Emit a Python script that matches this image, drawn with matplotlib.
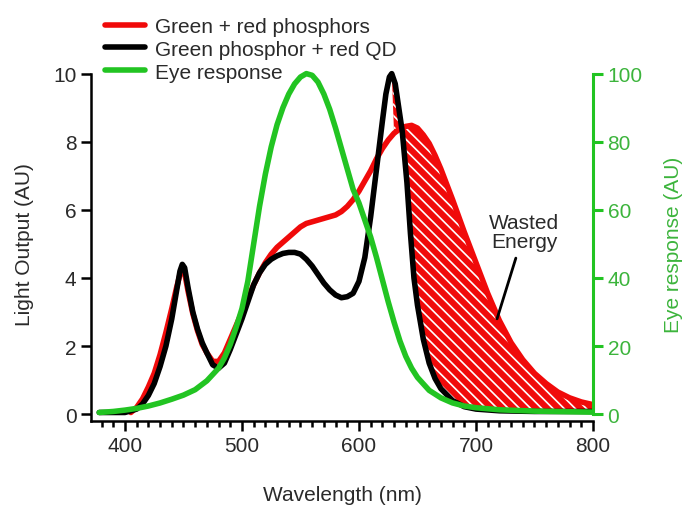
import numpy as np
import matplotlib
matplotlib.use("Agg")
import matplotlib.pyplot as plt

plt.rcParams['font.family'] = ['Liberation Sans', 'DejaVu Sans']
plt.rcParams['hatch.linewidth'] = 1.2
plt.rcParams['hatch.color'] = 'white'

# Green phosphor + red QD (black)
black_wl = [378, 390, 400, 410, 415, 420, 425, 430, 435, 440, 444, 447, 449, 451, 454,
            458, 462, 466, 470, 475, 480, 485, 490, 495, 500, 505, 510, 515, 520, 525,
            530, 535, 540, 545, 550, 555, 560, 565, 570, 575, 580, 585, 590, 595, 600,
            605, 610, 615, 620, 623, 626, 628, 631, 634, 637, 641, 644, 647, 650, 655,
            660, 665, 670, 680, 690, 700, 720, 750, 800]
black_val = [0.05, 0.05, 0.05, 0.15, 0.3, 0.55, 0.9, 1.4, 2.0, 2.8, 3.6, 4.2, 4.4, 4.3, 3.7,
             3.0, 2.5, 2.1, 1.8, 1.45, 1.35, 1.5, 1.9, 2.35, 2.8, 3.3, 3.8, 4.15, 4.4, 4.55,
             4.65, 4.72, 4.75, 4.75, 4.7, 4.55, 4.35, 4.1, 3.85, 3.65, 3.5, 3.42, 3.45, 3.55, 3.9,
             4.6, 5.8, 7.2, 8.6, 9.4, 9.9, 10.0, 9.7, 9.0, 8.3, 6.8, 5.3, 4.0, 3.2, 2.2,
             1.5, 1.05, 0.75, 0.4, 0.22, 0.15, 0.1, 0.08, 0.08]

# Green + red phosphors (red)
red_wl = [405, 410, 415, 420, 425, 430, 435, 440, 444, 447, 449, 451, 454, 458, 462, 466,
          470, 475, 480, 485, 490, 495, 500, 505, 510, 515, 520, 525, 530, 535, 540, 545,
          550, 555, 560, 565, 570, 575, 580, 585, 590, 595, 600, 605, 610, 615, 620, 625,
          630, 635, 640, 645, 650, 655, 660, 665, 670, 675, 680, 690, 700, 710, 720, 730,
          740, 750, 760, 770, 780, 790, 800]
red_val = [0.05, 0.2, 0.45, 0.8, 1.2, 1.75, 2.4, 3.1, 3.7, 4.1, 4.25, 4.15, 3.6, 2.95, 2.45, 2.05,
           1.8, 1.55, 1.55, 1.8, 2.2, 2.6, 3.0, 3.4, 3.8, 4.15, 4.45, 4.7, 4.9, 5.05, 5.2, 5.35,
           5.5, 5.6, 5.65, 5.7, 5.75, 5.8, 5.85, 5.95, 6.1, 6.3, 6.55, 6.85, 7.15, 7.5, 7.8, 8.05,
           8.25, 8.38, 8.45, 8.48, 8.4, 8.2, 7.95, 7.6, 7.2, 6.75, 6.3, 5.35, 4.45, 3.55, 2.75, 2.1,
           1.6, 1.2, 0.9, 0.65, 0.48, 0.36, 0.28]

# Eye response (right axis)
eye_wl = [378, 390, 400, 410, 420, 430, 440, 450, 460, 470, 480, 485, 490, 495, 500, 505,
          510, 515, 520, 525, 530, 535, 540, 545, 550, 555, 560, 565, 570, 575, 580, 585,
          590, 595, 600, 605, 610, 615, 620, 625, 630, 635, 640, 645, 650, 660, 670, 680,
          690, 700, 720, 750, 800]
eye_val = [0.5, 0.8, 1.2, 1.7, 2.4, 3.3, 4.4, 5.6, 7.2, 9.8, 13.5, 16.5, 20.5, 25.5, 31, 39,
           50, 61, 70.5, 78.5, 85, 90, 94, 97, 99, 100, 99.5, 97.5, 94, 89.5, 84, 78,
           72, 66, 62, 57, 52, 46, 39.5, 33, 27, 21.5, 17, 13.5, 10.8, 7, 4.8, 3.3,
           2.4, 1.9, 1.3, 0.9, 0.6]

left_ticks = [0, 2, 4, 6, 8, 10]
right_ticks = [0, 20, 40, 60, 80, 100]
x_ticks = [400, 500, 600, 700, 800]

RED = '#f00a0a'
GREEN = '#22c422'
GREEN_TXT = '#3cb43c'
TXT = '#2a2a2a'
FS = 15

fig = plt.figure(figsize=(6.86, 5.06), dpi=100)
ax = fig.add_axes([0.1327, 0.166, 0.7317, 0.700])

# wasted energy region: between black and red tails
bx = np.array(black_wl)
rx = np.array(red_wl)
rmask = rx >= 628
bmask = bx >= 628
poly_x = np.concatenate([rx[rmask], bx[bmask][::-1]])
poly_y = np.concatenate([np.array(red_val)[rmask], np.array(black_val)[bmask][::-1]])
ax.fill(poly_x, poly_y, facecolor=RED, edgecolor='white', hatch='\\\\\\', linewidth=0, zorder=1)

l_red, = ax.plot(red_wl, red_val, color=RED, lw=4, solid_capstyle='round', zorder=2,
                 label='Green + red phosphors')
l_blk, = ax.plot(black_wl, black_val, color='black', lw=4, solid_capstyle='round', zorder=3,
                 label='Green phosphor + red QD')

ax.set_xlim(371, 800)
ax.set_ylim(-0.2, 10.2)
ax.set_xticks(x_ticks)
ax.set_xticks(np.arange(380, 801, 10), minor=True)
ax.set_yticks(left_ticks)
for s in ['top', 'right']:
    ax.spines[s].set_visible(False)
for s in ['left', 'bottom']:
    ax.spines[s].set_linewidth(1.8)
ax.spines['left'].set_bounds(-0.2, 10)
ax.tick_params(axis='both', which='major', direction='out', length=7, width=1.8,
               labelsize=FS, labelcolor=TXT)
ax.tick_params(axis='x', which='minor', direction='out', length=4, width=1.8)
ax.set_xlabel('Wavelength (nm)', fontsize=FS, color=TXT, labelpad=22)
ax.set_ylabel('Light Output (AU)', fontsize=FS, color=TXT, labelpad=14)

ax2 = ax.twinx()
l_eye, = ax2.plot(eye_wl, eye_val, color=GREEN, lw=4, solid_capstyle='round',
                  label='Eye response')
ax2.set_ylim(-2, 102)
ax2.set_yticks(right_ticks)
for s in ['top', 'left', 'bottom']:
    ax2.spines[s].set_visible(False)
ax2.spines['right'].set_color(GREEN)
ax2.spines['right'].set_linewidth(2.2)
ax2.spines['right'].set_bounds(0, 100)
ax2.tick_params(axis='y', direction='out', length=7, width=2.2, color=GREEN,
                labelsize=FS, labelcolor=GREEN_TXT)
ax2.set_ylabel('Eye response (AU)', fontsize=FS, color=GREEN_TXT, labelpad=15)

ax.annotate('Wasted\nEnergy', xy=(718, 2.8), xytext=(741, 5.35), ha='center', va='center',
            fontsize=FS, color=TXT, linespacing=1.05,
            arrowprops=dict(arrowstyle='-', lw=2, color='black', shrinkA=3, shrinkB=0))

fig.legend(handles=[l_red, l_blk, l_eye], loc='upper left',
           bbox_to_anchor=(0.138, 0.985), frameon=False, fontsize=FS,
           handlelength=1.9, handletextpad=0.5, labelspacing=0.18, borderpad=0,
           labelcolor=TXT)

fig.savefig('out.png', dpi=100)
